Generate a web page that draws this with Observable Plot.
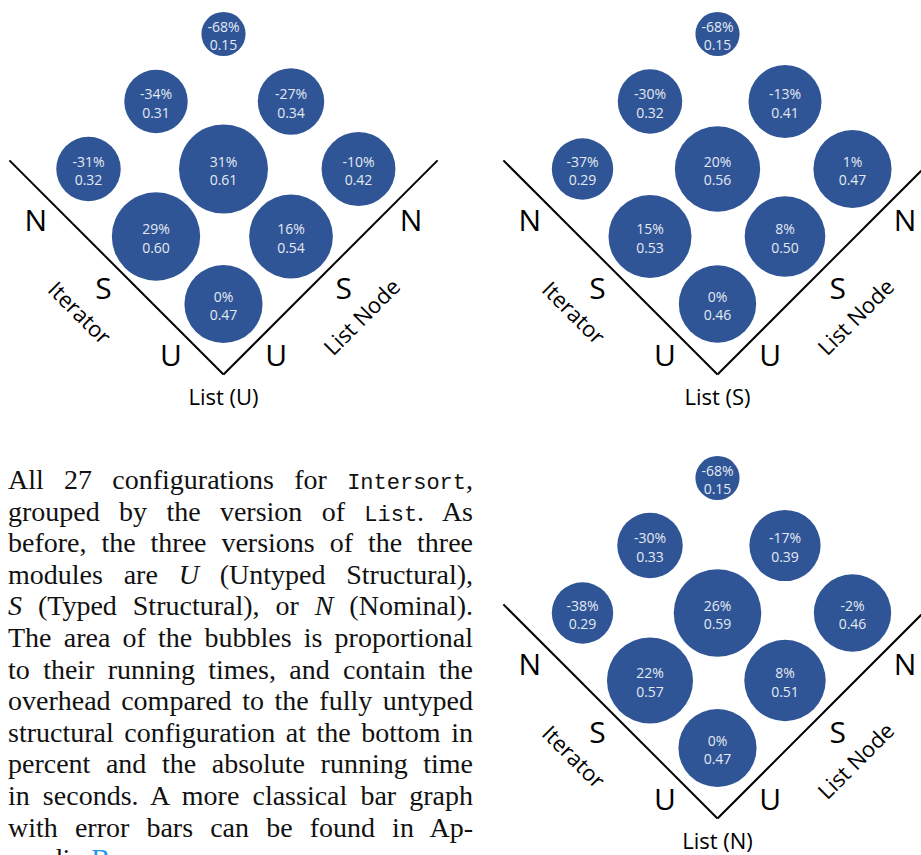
<!DOCTYPE html>
<html><head><meta charset="utf-8">
<script src="https://cdn.jsdelivr.net/npm/d3@7"></script>
<script src="https://cdn.jsdelivr.net/npm/@observablehq/plot@0.6"></script>
<style>
html,body{margin:0;padding:0;background:#fff;overflow:hidden;}
#page{position:relative;width:921px;height:855px;overflow:hidden;}
.panel{position:absolute;width:460px;height:420px;}
.panel svg{max-width:none !important;}
#caption{position:absolute;left:8px;top:464px;width:465px;font-family:"Liberation Serif",serif;font-size:28px;color:#111;}
#caption .ln{height:31.6px;line-height:31.6px;text-align:justify;text-align-last:justify;}
#caption tt{font-family:"Liberation Mono",monospace;font-size:22px;}
#caption .last{text-align:left;text-align-last:left;}
#caption .link{color:#2196f3;}
</style></head>
<body>
<div id="page">
<div id="caption">
<div class="ln">All 27 configurations for <tt>Intersort</tt>,</div>
<div class="ln">grouped by the version of <tt>List</tt>. As</div>
<div class="ln">before, the three versions of the three</div>
<div class="ln">modules are <i>U</i> (Untyped Structural),</div>
<div class="ln"><i>S</i> (Typed Structural), or <i>N</i> (Nominal).</div>
<div class="ln">The area of the bubbles is proportional</div>
<div class="ln">to their running times, and contain the</div>
<div class="ln">overhead compared to the fully untyped</div>
<div class="ln">structural configuration at the bottom in</div>
<div class="ln">percent and the absolute running time</div>
<div class="ln">in seconds. A more classical bar graph</div>
<div class="ln">with error bars can be found in Ap-</div>
<div class="ln last">pendix <span class="link">B</span>.</div>
</div>
</div>
<script>
// Module versions (U = untyped structural, S = typed structural, N = nominal)
const versions = ["U", "S", "N"];
const listVersions = ["U", "S", "N"];
const axisIteratorLabel = "Iterator";
const axisListNodeLabel = "List Node";

// The nine cells of each panel: version of Iterator and of List Node
const cellIterator = ["U", "S", "U", "N", "S", "U", "N", "S", "N"];
const cellListNode = ["U", "U", "S", "U", "S", "N", "S", "N", "N"];

// List (U)
const timeListU     = [0.47, 0.60, 0.54, 0.32, 0.61, 0.42, 0.31, 0.34, 0.15];
const overheadListU = [0, 29, 16, -31, 31, -10, -34, -27, -68];
// List (S)
const timeListS     = [0.46, 0.53, 0.50, 0.29, 0.56, 0.47, 0.32, 0.41, 0.15];
const overheadListS = [0, 15, 8, -37, 20, 1, -30, -13, -68];
// List (N)
const timeListN     = [0.47, 0.57, 0.51, 0.29, 0.59, 0.46, 0.33, 0.39, 0.15];
const overheadListN = [0, 22, 8, -38, 26, -2, -30, -17, -68];

const panels = [
  {list: listVersions[0], times: timeListU, overhead: overheadListU},
  {list: listVersions[1], times: timeListS, overhead: overheadListS},
  {list: listVersions[2], times: timeListN, overhead: overheadListN}
];

// ---- layout ----
const offsets = [[0, 0], [494, 0], [494, 444]];
const unit = 67.5, W = 460, H = 420, cx = 223, cy = 303.5;
const gx = (it, ln) => ln - it;
const gy = (it, ln) => ln + it;
const idx = v => versions.indexOf(v);

function makePanel(p) {
  const cells = cellIterator.map((it, i) => ({
    it: idx(it), ln: idx(cellListNode[i]), t: p.times[i], o: p.overhead[i]
  }));
  const lo = -0.522, hi = 2.65;
  const axisLines = [
    {x1: gx(hi, lo), y1: gy(hi, lo), x2: gx(lo, lo), y2: gy(lo, lo)},
    {x1: gx(lo, hi), y1: gy(lo, hi), x2: gx(lo, lo), y2: gy(lo, lo)}
  ];
  const off = -0.78;
  const ticks = versions.flatMap((v, k) => [
    {v, x: gx(k, off), y: gy(k, off)},
    {v, x: gx(off, k), y: gy(off, k)}
  ]);
  const font = "'Open Sans', sans-serif";
  return Plot.plot({
    width: W, height: H, margin: 0,
    x: {domain: [-cx / unit, (W - cx) / unit], range: [0, W], axis: null},
    y: {domain: [(cy - H) / unit, cy / unit], range: [H, 0], axis: null},
    r: {type: "sqrt", domain: [0, 1], range: [0, 57]},
    style: {fontFamily: font, background: "transparent", overflow: "visible", maxWidth: "none"},
    marks: [
      Plot.link(axisLines, {x1: "x1", y1: "y1", x2: "x2", y2: "y2", stroke: "#000", strokeWidth: 2}),
      Plot.dot(cells, {x: d => gx(d.it, d.ln), y: d => gy(d.it, d.ln), r: "t", fill: "#2F5597"}),
      Plot.text(cells, {
        x: d => gx(d.it, d.ln), y: d => gy(d.it, d.ln),
        text: d => `${d.o}%\n${d.t.toFixed(2)}`,
        fill: "#e4e9f2", fontSize: 14, lineHeight: 1.32, dy: 1
      }),
      Plot.text(ticks, {x: "x", y: "y", text: "v", fontSize: 30, fill: "#000"}),
      Plot.text([axisIteratorLabel], {x: () => gx(1, -1.14), y: () => gy(1, -1.14), text: d => d, rotate: 45, fontSize: 22, fill: "#000"}),
      Plot.text([axisListNodeLabel], {x: () => gx(-1.13, 0.93), y: () => gy(-1.13, 0.93), text: d => d, rotate: -45, fontSize: 22, fill: "#000"}),
      Plot.text([`List (${p.list})`], {x: () => 0, y: () => gy(-0.693, -0.693), text: d => d, fontSize: 22, fill: "#000"})
    ]
  });
}

const page = document.getElementById("page");
panels.forEach((p, i) => {
  const div = document.createElement("div");
  div.className = "panel";
  div.style.left = offsets[i][0] + "px";
  div.style.top = offsets[i][1] + "px";
  div.appendChild(makePanel(p));
  page.appendChild(div);
});
</script>
</body></html>
